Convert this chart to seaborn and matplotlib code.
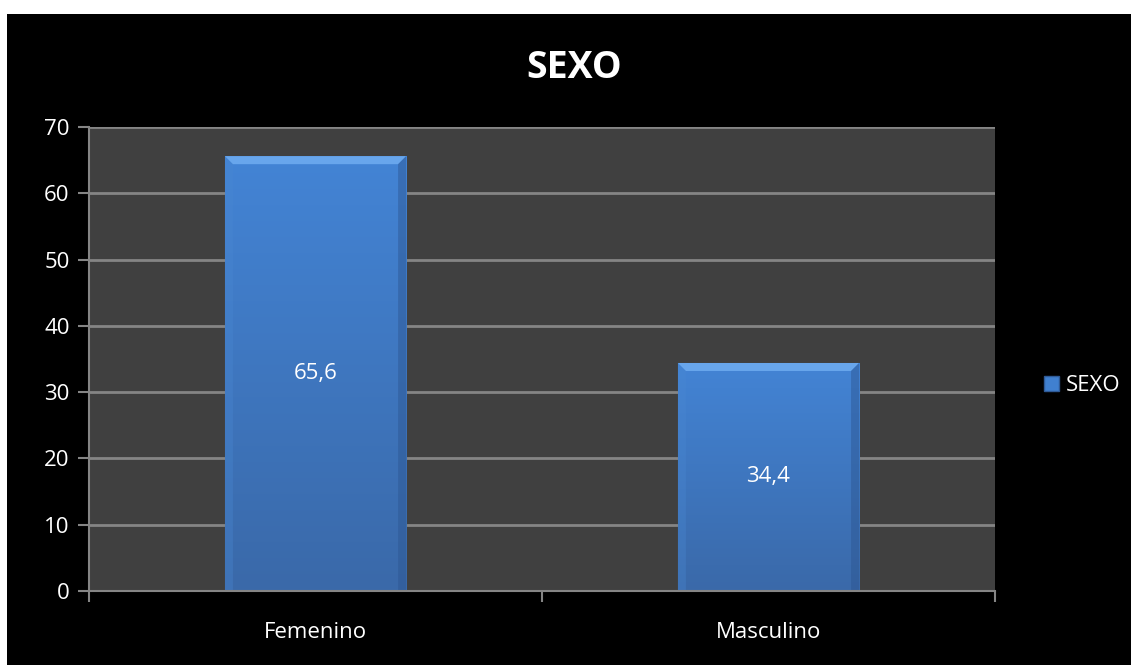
import numpy as np
import matplotlib
matplotlib.use('Agg')
import matplotlib.pyplot as plt
import matplotlib.patches as mpatches
import seaborn as sns

# datos del grafico
categorias = ['Femenino', 'Masculino']
porcentajes = [65.6, 34.4]
etiquetas = ['65,6', '34,4']
serie = 'SEXO'
y_ticks = [0, 10, 20, 30, 40, 50, 60, 70]

sns.set_style('dark')
plt.rcParams['font.family'] = ['Open Sans', 'DejaVu Sans']

fig = plt.figure(figsize=(11.31, 6.65), dpi=100, facecolor='white')
# fondo negro del area del grafico (borde blanco arriba e izquierda)
fig.patches.append(mpatches.Rectangle((7 / 1131, 0), 1 - 7 / 1131, 1 - 14 / 665,
                                      transform=fig.transFigure, facecolor='black',
                                      edgecolor='none', zorder=-10))

ax = fig.add_axes([0.0787, 0.1113, 0.8010, 0.6977])
ax.set_facecolor('#404040')

sns.barplot(x=categorias, y=porcentajes, color='#4080d0', width=0.40,
            saturation=1, linewidth=0, ax=ax, zorder=3)

ax.set_ylim(0, 70)
ax.set_xlim(-0.5, 1.5)
ax.set_yticks(y_ticks)
ax.grid(axis='y', color='#858585', linewidth=2, zorder=1)
ax.grid(axis='x', visible=False)
for lado in ['top', 'right']:
    ax.spines[lado].set_visible(False)
for lado in ['left', 'bottom']:
    ax.spines[lado].set_color('#858585')
    ax.spines[lado].set_linewidth(1.5)
    ax.spines[lado].set_zorder(4)

ax.tick_params(axis='y', colors='#858585', labelcolor='white', labelsize=16,
               length=8, width=1.5, direction='out', left=True, pad=6)
ax.set_xticks([-0.5, 0.5, 1.5], minor=False)
ax.set_xticklabels([])
ax.set_xticks([0, 1], minor=True)
ax.set_xticklabels(categorias, minor=True)
ax.tick_params(axis='x', which='major', colors='#858585', length=8, width=1.5,
               direction='out', bottom=True)
ax.tick_params(axis='x', which='minor', length=0, labelcolor='white',
               labelsize=16, pad=22)

# degradado y biselado de las barras
grad = np.linspace(0, 1, 256).reshape(-1, 1)
cmap = matplotlib.colors.LinearSegmentedColormap.from_list('b', ['#3a69a9', '#4384d5'])
inv = ax.transData.inverted()
for barra, txt in zip(ax.patches, etiquetas):
    x0, w, h = barra.get_x(), barra.get_width(), barra.get_height()
    img = ax.imshow(grad, extent=(x0, x0 + w, 0, h), aspect='auto', cmap=cmap,
                    origin='lower', zorder=3.5)
    img.set_clip_path(barra)
    # tamano del bisel en unidades de datos
    p0 = ax.transData.transform((x0, h))
    bx = inv.transform(p0 + np.array([8, 0]))[0] - x0
    by = h - inv.transform(p0 - np.array([0, 8]))[1]
    x1 = x0 + w
    top = mpatches.Polygon([(x0, h), (x1, h), (x1 - bx, h - by), (x0 + bx, h - by)],
                           closed=True, facecolor='#68a6ec', edgecolor='none', zorder=3.6)
    izq = mpatches.Polygon([(x0, h), (x0 + bx, h - by), (x0 + bx, 0), (x0, 0)],
                           closed=True, facecolor='#4a88d2', edgecolor='none', zorder=3.6, alpha=0.35)
    der = mpatches.Polygon([(x1, h), (x1 - bx, h - by), (x1 - bx, 0), (x1, 0)],
                           closed=True, facecolor='#2c5590', edgecolor='none', zorder=3.6, alpha=0.45)
    for p in (top, izq, der):
        ax.add_patch(p)
    ax.text(x0 + w / 2, h / 2, txt, ha='center', va='center', color='white',
            fontsize=16, zorder=5)

ax.set_xlim(-0.5, 1.5)
ax.set_ylim(0, 70)

fig.text(0.508, 0.898, serie, ha='center', va='center', color='white',
         fontsize=27, fontweight='bold')

handle = mpatches.Patch(facecolor='#4080d0', edgecolor='#2f5a96')
leg = fig.legend([handle], [serie], loc='center left', bbox_to_anchor=(0.905, 0.42),
                 frameon=False, fontsize=16, handlelength=0.7, handleheight=0.7,
                 handletextpad=0.3, labelcolor='white')

fig.savefig('out.png', dpi=100, facecolor=fig.get_facecolor())
